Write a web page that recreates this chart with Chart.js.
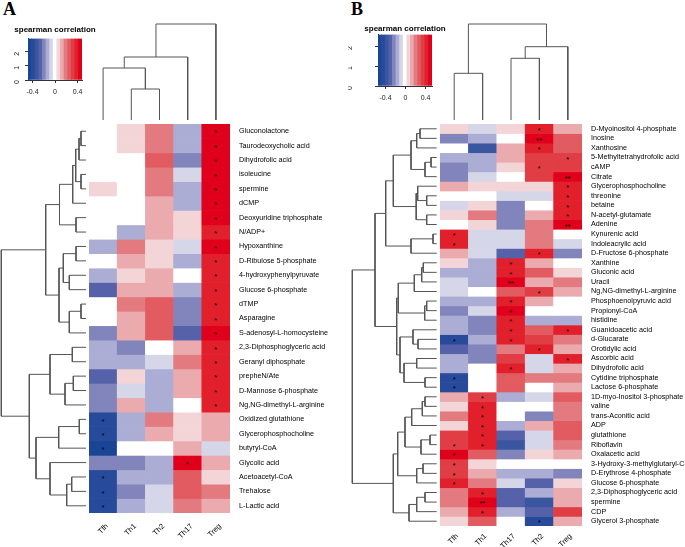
<!DOCTYPE html>
<html><head><meta charset="utf-8">
<script src="https://cdn.jsdelivr.net/npm/chart.js@4.4.0/dist/chart.umd.min.js"></script>
<style>
html,body{margin:0;padding:0;background:#fff;}
body{width:685px;height:547px;overflow:hidden;position:relative;}
canvas{position:absolute;}
.pl{position:absolute;font:bold 18px "Liberation Serif",serif;line-height:18px;color:#000;}
</style></head><body>
<div class="pl" style="left:3px;top:0">A</div>
<div class="pl" style="left:351px;top:0">B</div>
<script>
// ---------------- data ----------------
const colsA = ['Tfh','Th1','Th2','Th17','Treg'];
const rowsA = ['Gluconolactone','Taurodeoxycholic acid','Dihydrofolic acid','isoleucine','spermine','dCMP',
 'Deoxyuridine triphosphate','N/ADP+','Hypoxanthine','D-Ribulose 5-phosphate','4-hydroxyphenylpyruvate',
 'Glucose 6-phosphate','dTMP','Asparagine','S-adenosyl-L-homocysteine','2,3-Diphosphoglyceric acid',
 'Geranyl diphosphate','prepheN/Ate','D-Mannose 6-phosphate','Ng,NG-dimethyl-L-arginine','Oxidized glutathione',
 'Glycerophosphocholine','butyryl-CoA','Glycolic acid','Acetoacetyl-CoA','Trehalose','L-Lactic acid'];
const valsA = [
 [0,0.07,0.2,-0.13,0.47],[0,0.07,0.2,-0.13,0.47],[0,0,0.27,-0.2,0.47],[0,0,0.2,-0.07,0.47],
 [0.07,0,0.2,-0.13,0.47],[0,0,0.13,-0.13,0.47],[0,0,0.13,0.07,0.47],[0,-0.13,0.13,0.07,0.4],
 [-0.13,0.2,0.07,-0.07,0.47],[0,0.13,0.07,-0.13,0.4],[-0.13,0.07,0.13,0,0.4],[-0.27,0.13,0.13,-0.13,0.4],
 [0,0.2,0.27,-0.2,0.4],[0,0.13,0.27,-0.2,0.4],[-0.2,0.13,0.27,-0.27,0.47],[-0.13,-0.2,0,0.13,0.4],
 [-0.13,-0.13,-0.07,0.2,0.4],[-0.27,0.07,-0.13,0.13,0.4],[-0.2,-0.07,-0.13,0.13,0.4],[-0.2,0.13,-0.13,0,0.4],
 [-0.4,-0.13,0.2,0.07,0.13],[-0.4,-0.13,0.13,0.07,0.13],[-0.47,0,0,0.13,-0.07],[-0.2,-0.2,-0.13,0.47,0.13],
 [-0.4,-0.13,-0.13,0.27,0.07],[-0.4,-0.2,-0.07,0.27,0.2],[-0.4,-0.13,-0.07,0.2,0.13]];
const sigA = [
 ['','','','','*'],['','','','','*'],['','','','','*'],['','','','','*'],['','','','','*'],['','','','','*'],
 ['','','','','*'],['','','','','*'],['','','','','*'],['','','','','*'],['','','','','*'],['','','','','*'],
 ['','','','','*'],['','','','','*'],['','','','','*'],['','','','','*'],['','','','','*'],['','','','','*'],
 ['','','','','*'],['','','','','*'],['*','','','',''],['*','','','',''],['*','','','',''],['','','','*',''],
 ['*','','','',''],['*','','','',''],['*','','','','']];
const rowTreeA = [[-1,-2,5],[1,-3,7],[-4,-5,5],[2,3,10.3],[4,-6,13.3],[-7,-8,10],[5,6,26.5],
 [-9,-10,10],[-11,-12,16.7],[8,9,22.7],[-13,-14,5],[11,-15,16.7],[10,12,27],[7,13,40.3],
 [-16,-17,13.7],[-18,-19,12.7],[16,-20,21],[15,17,36],[-21,-22,6.7],[19,-23,27.3],
 [-25,-26,14.3],[21,-27,19.3],[-24,22,36],[20,23,50],[18,24,56.7],[14,25,84.7]];
const colTreeA = [[-2,-3,31],[-1,1,52],[2,-4,63],[3,-5,96]];

const colsB = ['Tfh','Th1','Th17','Th2','Treg'];
const rowsB = ['D-Myoinositol 4-phosphate','Inosine','Xanthosine','5-Methyltetrahydrofolic acid','cAMP','Citrate',
 'Glycerophosphocholine','threonine','betaine','N-acetyl-glutamate','Adenine','Kynurenic acid','Indoleacrylic acid',
 'D-Fructose 6-phosphate','Xanthine','Gluconic acid','Uracil','Ng,NG-dimethyl-L-arginine','Phosphoenolpyruvic acid',
 'Propionyl-CoA','histidine','Guanidoacetic acid','d-Glucarate','Orotidylic acid','Ascorbic acid','Dihydrofolic acid',
 'Cytidine triphosphate','Lactose 6-phosphate','1D-myo-Inositol 3-phosphate','valine','trans-Aconitic acid','ADP',
 'glutathione','Riboflavin','Oxalacetic acid','3-Hydroxy-3-methylglutaryl-CoA','D-Erythrose 4-phosphate',
 'Glucose 6-phosphate','2,3-Diphosphoglyceric acid','spermine','CDP','Glycerol 3-phosphate'];
const valsB = [
 [0.07,-0.07,0.07,0.4,0.13],[-0.2,-0.13,0,0.47,0.27],[0,-0.33,0.13,0.4,0.27],[-0.13,-0.13,0.13,0.33,0.33],
 [-0.2,-0.13,0.07,0.33,0.33],[-0.2,-0.07,0,0.33,0.47],[0.13,0.07,0.07,0.07,0.4],[0,0,-0.07,-0.07,0.4],
 [-0.07,0.07,-0.2,0,0.4],[0.07,0.2,-0.2,0.13,0.4],[0,0.07,-0.2,0.2,0.47],[0.4,-0.07,-0.07,0.2,0],
 [0.4,-0.07,-0.07,0.2,-0.07],[0.13,-0.07,-0.27,0.4,-0.2],[0.07,-0.13,0.4,0.13,0],[-0.13,-0.13,0.4,0.27,0.07],
 [-0.07,-0.13,0.47,0.13,0.2],[-0.07,0,0.27,0.33,0.13],[-0.13,-0.13,0.4,0.13,0],[-0.2,-0.07,0.47,0,0],
 [-0.13,-0.2,0.4,-0.13,-0.13],[-0.13,-0.2,0.4,0.27,0.4],[-0.4,-0.13,0.4,0.33,0.2],[-0.27,-0.2,0.2,0.4,0.13],
 [-0.13,-0.2,0.33,-0.07,0.4],[-0.13,0,0.4,-0.07,0.13],[-0.4,0,0.27,0.2,0.2],[-0.4,0,0.27,0,0.13],
 [0.13,0.33,-0.13,-0.07,0.27],[0.07,0.4,0,0,0.2],[0.2,0.4,0,-0.2,0.2],[0.07,0.4,-0.13,0.13,0.27],
 [0.33,0.4,-0.27,-0.07,0.27],[0.33,0.4,-0.33,-0.07,0.2],[0.47,0.27,-0.2,0.07,0.13],[0.33,0.07,0,0,0],
 [0.33,0.13,-0.13,-0.13,-0.2],[0.4,0.2,-0.07,-0.27,0.07],[0.2,0.4,-0.27,-0.13,0.13],[0.2,0.47,-0.27,-0.33,0.13],
 [0.13,0.4,-0.13,-0.27,0.33],[0.07,0.27,0,-0.4,0.13]];
const sigB = [
 ['','','','*',''],['','','','**',''],['','','','*',''],['','','','','*'],['','','','*',''],['','','','','**'],
 ['','','','','*'],['','','','','*'],['','','','','*'],['','','','','*'],['','','','','**'],['*','','','',''],
 ['*','','','',''],['','','','*',''],['','','*','',''],['','','*','',''],['','','**','',''],['','','','*',''],
 ['','','*','',''],['','','*','',''],['','','*','',''],['','','*','','*'],['*','','*','',''],['','','','*',''],
 ['','','','','*'],['','','*','',''],['*','','','',''],['*','','','',''],['','*','','',''],['','*','','',''],
 ['','*','','',''],['','*','','',''],['','*','','',''],['*','*','','',''],['*','','','',''],['*','','','',''],
 ['*','','','',''],['*','','','',''],['','*','','',''],['','**','','',''],['','*','','',''],['','','','*','']];
const rowTreeB = [[-1,-2,16.7],[1,-3,20],[-4,-5,5.7],[3,-6,11.7],[2,4,25.7],[-8,-9,10],[-7,6,19],
 [-10,-11,10],[7,8,20.5],[5,9,43.4],[-12,-13,3.7],[11,-14,25.7],[10,12,51],[-15,-16,13.4],
 [14,-17,15],[15,-18,22.4],[-19,-20,10],[17,-21,12],[16,18,38.4],[-23,-24,18.7],[-22,20,23.7],
 [-25,-26,20],[-27,-28,11.7],[22,23,32.7],[21,24,36.7],[19,25,40],[13,26,61.7],[-29,-30,11.7],
 [28,-31,14.4],[29,-32,25],[-33,-34,6.7],[31,-35,15.7],[30,32,31.7],[-36,-37,13.7],[34,-38,20],
 [33,35,39],[-39,-40,11.7],[37,-41,20],[38,-42,27.7],[36,39,43.4],[27,40,84.4]];
const colTreeB = [[-1,-2,46.7],[-3,-4,61.7],[2,-5,73.3],[1,3,96]];

// colour key: density of correlations (read from the key)
const densXA = [-0.456,-0.43,-0.385,-0.355,-0.314,-0.237,-0.207,-0.166,-0.13,-0.1,-0.077,-0.059,-0.03,-0.006,0.018,0.047,0.077,0.107,0.136,0.16,0.207,0.296,0.338,0.373,0.403,0.444,0.474];
const densYA = [0,0.36,0.76,0.48,0,0,0.24,1.19,2.14,2.74,2.14,1.55,2.14,2.19,1.9,1.31,1.67,1.9,1.31,0.24,0,0,0.48,1.43,1.79,1.55,0.83];
const densXB = [-0.55,-0.5,-0.47,-0.43,-0.39,-0.34,-0.29,-0.23,-0.16,-0.12,-0.08,-0.03,0.01,0.06,0.1,0.13,0.18,0.24,0.3,0.34,0.37,0.39,0.44,0.48,0.53];
const densYB = [0,0.15,0.3,0.25,0.15,0.4,0.55,0.7,1.2,1.5,1.8,2.38,1.8,1.4,1.45,1.5,1.25,1.0,0.8,1.1,1.55,1.6,1.05,0.7,0.35];
const keyTicksX = [-0.4,0,0.4];
const keyTicksY = [0,1,2];
const palette = ['#1a4494','#284a9b','#3b56a1','#5561a9','#8185bc','#abadd4','#d6d6e9','#ffffff',
 '#f3d5d8','#eaaaae','#e37a7f','#e15b61','#e03d45','#e2202c','#e0001b'];

// ---------------- helpers ----------------
Chart.defaults.font.family = '"Liberation Sans", Arial, sans-serif';
Chart.defaults.color = '#000';
const colorOf = v => palette[Math.max(-7, Math.min(7, Math.round(v * 15))) + 7];
function cv(l, t, w, h) {
  const c = document.createElement('canvas');
  c.width = w; c.height = h;
  c.style.left = l + 'px'; c.style.top = t + 'px';
  c.style.width = w + 'px'; c.style.height = h + 'px';
  document.body.appendChild(c);
  return c;
}
// fix an axis box size and stop its labels from pushing the plot area
const fix = (w, h) => s => {
  if (w != null) s.width = w;
  if (h != null) s.height = h;
  s.paddingTop = 0; s.paddingBottom = 0; s.paddingLeft = 0; s.paddingRight = 0;
};
const base = { responsive: false, animation: false, devicePixelRatio: 1,
  plugins: { legend: { display: false }, tooltip: { enabled: false } } };

function dendro(merges) {
  const pos = [], ht = [], segs = [];
  const P = k => k < 0 ? (-k - 1) + 0.5 : pos[k - 1];
  const H = k => k < 0 ? 0 : ht[k - 1];
  merges.forEach(([a, b, h], i) => {
    const pa = P(a), pb = P(b);
    pos[i] = (pa + pb) / 2; ht[i] = h;
    segs.push([[H(a), pa], [h, pa], [h, pb], [H(b), pb]]);
  });
  return segs;
}
function dendroChart(c, merges, n, vertical, pad) {
  const segs = dendro(merges);
  const hmax = Math.max(...merges.map(m => m[2]));
  const ds = segs.map(s => ({
    data: s.map(([h, p]) => vertical ? { x: p, y: h } : { x: h, y: p }),
    showLine: true, pointRadius: 0, borderColor: '#555', borderWidth: 1, tension: 0, clip: false
  }));
  new Chart(c, { type: 'scatter', data: { datasets: ds },
    options: Object.assign({}, base, { layout: { padding: pad },
      scales: vertical ?
        { x: { display: false, min: 0, max: n }, y: { display: false, min: 0, max: hmax } } :
        { x: { display: false, min: 0, max: hmax, reverse: true }, y: { display: false, min: 0, max: n, reverse: true } }
    }) });
}
const starPlugin = sig => ({ id: 'stars', afterDatasetsDraw(chart) {
  const ctx = chart.ctx, xs = chart.scales.x, ys = chart.scales.y;
  ctx.save(); ctx.fillStyle = '#000'; ctx.font = '8px "Liberation Sans"';
  ctx.textAlign = 'center'; ctx.textBaseline = 'middle';
  sig.forEach((row, i) => row.forEach((s, j) => {
    if (s) ctx.fillText(s, xs.getPixelForValue(j), ys.getPixelForValue(i + 0.5) + 2);
  }));
  ctx.restore();
} });
function heatmap(c, rows, cols, vals, sig, xPad, xOff) {
  new Chart(c, { type: 'bar',
    data: { labels: cols, datasets: rows.map((r, i) => ({ label: r, data: cols.map(() => [i, i + 1]),
      backgroundColor: vals[i].map(colorOf), borderWidth: 0, barPercentage: 1, categoryPercentage: 1, grouped: false })) },
    options: Object.assign({}, base, { layout: { padding: 0 },
      scales: {
        x: { type: 'category', offset: true, grid: { display: false, drawTicks: false }, border: { display: false },
          ticks: { autoSkip: false, minRotation: 45, maxRotation: 45, padding: xPad, labelOffset: xOff, color: '#000', font: { size: 7.5 } },
          afterFit: fix(null, 30) },
        y: { type: 'linear', min: 0, max: rows.length, reverse: true, display: false },
        yl: { type: 'category', labels: rows, position: 'right', offset: true, grid: { display: false, drawTicks: false },
          border: { display: false }, ticks: { autoSkip: false, padding: 9, color: '#000', font: { size: 7.2 } },
          afterFit: fix(110, null) }
      } }),
    plugins: [starPlugin(sig)] });
}
function keyChart(c, min, max, ymax, dx, dy, padLR, yW, yPad, tPad) {
  const n = palette.length, w = (max - min) / n;
  const bands = palette.map((col, k) => ({ x: min + w * (k + 0.5), y: ymax }));
  new Chart(c, { type: 'bar',
    data: { datasets: [
      { data: bands, backgroundColor: palette, borderWidth: 0, barPercentage: 1, categoryPercentage: 1 },
      { type: 'line', data: dx.map((x, i) => ({ x, y: dy[i] })), borderColor: '#4fc3e3', borderWidth: 1,
        pointRadius: 0, tension: 0, fill: false }
    ] },
    options: Object.assign({}, base, { layout: { padding: { left: padLR, right: padLR, top: 0, bottom: 2 } },
      plugins: { legend: { display: false }, tooltip: { enabled: false },
        title: { display: true, text: 'spearman correlation', color: '#000', font: { size: 8, weight: 'bold' }, padding: tPad } },
      scales: {
        x: { type: 'linear', min, max, offset: false,
          grid: { drawOnChartArea: false, drawTicks: true, tickLength: 3, color: '#333', offset: false },
          border: { display: true, color: '#333' },
          afterBuildTicks: s => { s.ticks = keyTicksX.map(v => ({ value: v })); },
          ticks: { font: { size: 7 }, color: '#222', padding: 5, maxRotation: 0, callback: v => v === 0 ? '0' : v.toFixed(1) },
          afterFit: fix(null, 20) },
        y: { type: 'linear', min: 0, max: ymax,
          grid: { drawOnChartArea: false, drawTicks: true, tickLength: 3, color: '#333' },
          border: { display: true, color: '#333' },
          afterBuildTicks: s => { s.ticks = keyTicksY.map(v => ({ value: v })); },
          ticks: { font: { size: 7 }, color: '#222', padding: yPad, minRotation: 90, maxRotation: 90, callback: v => String(v) },
          afterFit: fix(yW, null) },
        yr: { type: 'linear', position: 'right', display: true, grid: { display: false }, border: { display: false },
          ticks: { display: false }, afterFit: fix(yW, null) }
      } }) });
}

// ---------------- panel A ----------------
keyChart(cv(0, 22, 110, 80), -0.48, 0.48, 2.95, densXA, densYA, 12, 16, 8, { top: 3, bottom: 4 });
dendroChart(cv(89, 14, 141, 116), colTreeA, colsA.length, true, { top: 10, bottom: 10, left: 0, right: 0 });
dendroChart(cv(0, 114, 90, 409), rowTreeA, rowsA.length, false, { top: 10, bottom: 10, left: 1.3, right: 4 });
heatmap(cv(89, 124, 251, 419), rowsA, colsA, valsA, sigA, 9, 4);

// ---------------- panel B ----------------
keyChart(cv(348, 20, 114, 88), -0.55, 0.53, 2.57, densXB, densYB, 0, 30, 25, { top: 4, bottom: 1 });
dendroChart(cv(440, 14, 142, 116), colTreeB, colsB.length, true, { top: 10, bottom: 10, left: 0, right: 0 });
dendroChart(cv(345, 114, 96, 422), rowTreeB, rowsB.length, false, { top: 10, bottom: 10, left: 7.3, right: 4.3 });
heatmap(cv(440, 124, 252, 432), rowsB, colsB, valsB, sigB, 6, 3);
</script>
</body></html>
